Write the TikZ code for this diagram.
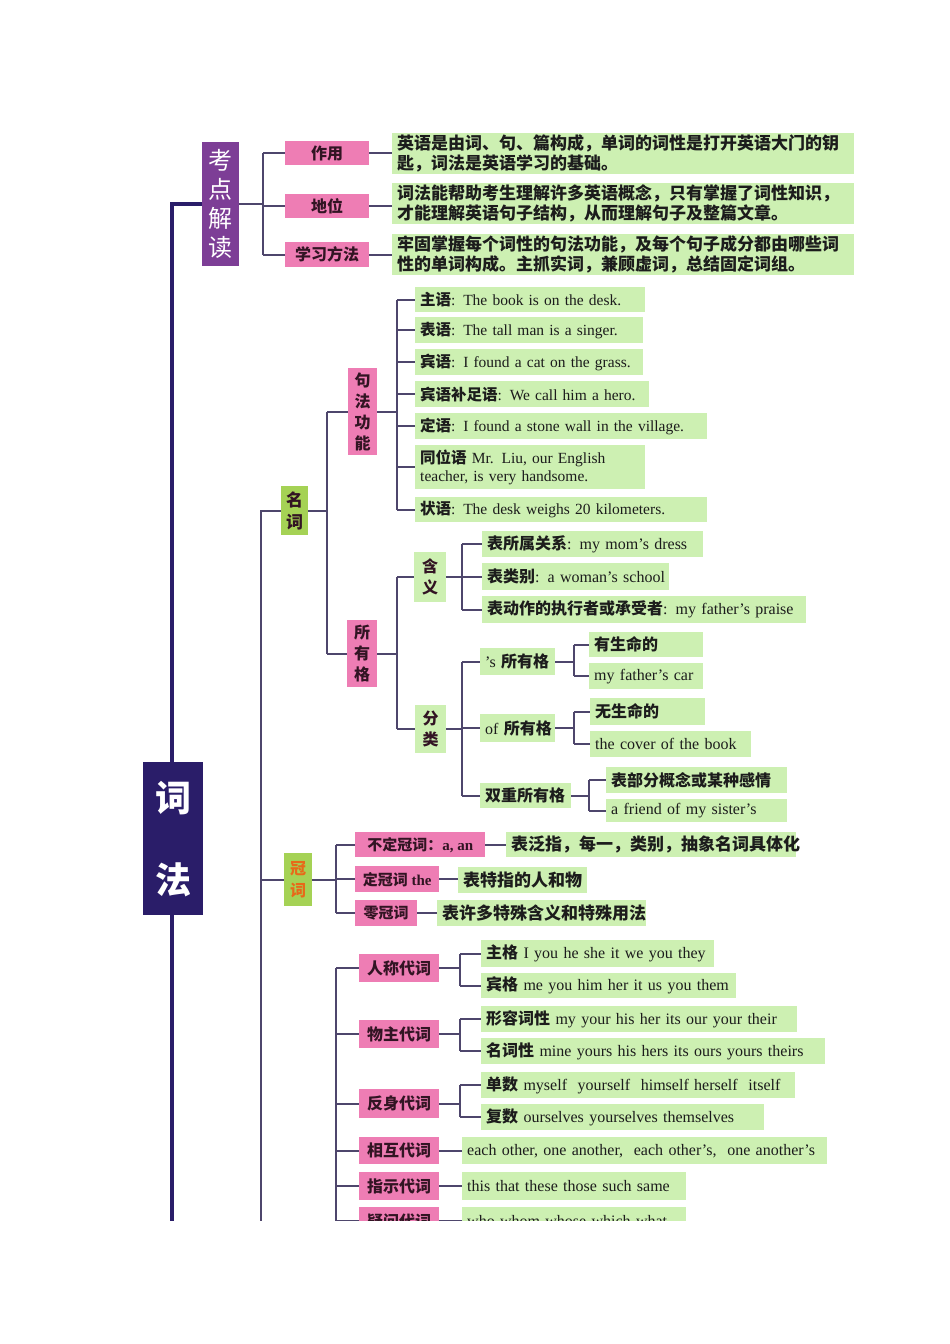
\documentclass[tikz,border=0pt]{standalone}
\usepackage{fontspec}
\setmainfont{Liberation Serif}
\newfontfamily\cjk{Noto Sans CJK SC}
\newcommand\zhx[1]{{\cjk\bfseries #1}}
\definecolor{pfill}{RGB}{238,125,180}
\definecolor{gfill}{RGB}{205,240,178}
\definecolor{mgreen}{RGB}{165,210,85}
\definecolor{lcol}{RGB}{78,70,108}
\definecolor{navy}{RGB}{42,29,105}
\definecolor{kdpurple}{RGB}{125,62,150}
\definecolor{ptext}{RGB}{50,20,35}
\definecolor{gtext}{RGB}{28,28,28}
\definecolor{orangetext}{RGB}{232,105,25}
\tikzset{
  gbox/.style={fill=gfill, inner xsep=5pt, inner ysep=0pt, anchor=north west, align=left, text=gtext, font=\fontsize{15.5}{18}\selectfont},
  pbox/.style={fill=pfill, inner sep=0pt, anchor=north west, align=center, text=ptext, font=\cjk\bfseries\fontsize{16}{20}\selectfont},
  vbox/.style={inner sep=0pt, anchor=north west, align=center, text=ptext, font=\cjk\bfseries\fontsize{16}{21}\selectfont},
  ln/.style={draw=lcol, line width=2pt},
  navyline/.style={draw=navy, line width=4.5pt},
}
% single-line green box (never wraps)
\newcommand\gn[6]{\node[gbox,text width=\the\dimexpr#4pt-10pt\relax,minimum height=#5pt] (#1) at (#2,#3) {\mbox{#6}};}
% multi-line green box (lines given with \\)
\newcommand\gm[6]{\node[gbox,text width=\the\dimexpr#4pt-10pt\relax,minimum height=#5pt] (#1) at (#2,#3) {#6};}
\newcommand\pn[6]{\node[pbox,minimum width=#4pt,minimum height=#5pt] (#1) at (#2,#3) {#6};}
\begin{document}
\begin{tikzpicture}[x=1pt,y=-1pt]
\useasboundingbox (0,0) rectangle (950,1344);
\fill[white] (0,0) rectangle (950,1344);
\begin{scope}
\clip (0,0) rectangle (950,1220);
% bus coordinates
\coordinate (B1) at (263,0);
\coordinate (B2) at (261,0);
\coordinate (B3) at (327,0);
\coordinate (B4) at (397,0);
\coordinate (B5) at (462,0);
\coordinate (B6) at (574,0);
\coordinate (B7) at (589,0);
\coordinate (B8) at (336,0);
\coordinate (B9) at (460,0);
\coordinate (bot) at (0,1232);
\coordinate (navx) at (172,0);

% ---------- top section ----------
\node[anchor=north west, fill=kdpurple, inner sep=0pt, minimum width=37pt, minimum height=124pt, align=center, text=white, font=\cjk\fontsize{24}{29}\selectfont] (kd) at (202,142) {考\\点\\解\\读};
\draw[navyline] (kd.west) -- (kd.west -| navx) -- (navx |- bot);
\node[anchor=north west, fill=navy, inner sep=0pt, minimum width=60pt, minimum height=153pt, align=center, text=white, font=\cjk\bfseries\fontsize{36}{82}\selectfont] (cf) at (143,762) {词\\法};

\pn{p1}{285}{141}{84}{24}{作用}
\pn{p2}{285}{194}{84}{24}{地位}
\pn{p3}{285}{242}{84}{25}{学习方法}
\begin{scope}[gbox/.append style={font=\cjk\bfseries\fontsize{17}{20}\selectfont}]
\gm{g1}{392}{133}{462}{41}{英语是由词、句、篇构成，单词的词性是打开英语大门的钥\\匙，词法是英语学习的基础。}
\gm{g2}{392}{183}{462}{41}{词法能帮助考生理解许多英语概念，只有掌握了词性知识，\\才能理解英语句子结构，从而理解句子及整篇文章。}
\gm{g3}{392}{234}{462}{41}{牢固掌握每个词性的句法功能，及每个句子成分都由哪些词\\性的单词构成。主抓实词，兼顾虚词，总结固定词组。}
\end{scope}
\draw[ln] (kd.east) -- (kd.east -| B1);
\draw[ln] (p1.west -| B1) -- (p3.west -| B1);
\foreach \n in {p1,p2,p3} \draw[ln] (\n.west -| B1) -- (\n.west);
\foreach \a/\b in {p1/g1,p2/g2,p3/g3} \draw[ln] (\a.east) -- (\a.east -| \b.west);

% ---------- noun ----------
\node[vbox, fill=mgreen, minimum width=27pt, minimum height=49pt, font=\cjk\bfseries\fontsize{17}{22}\selectfont] (mc) at (281,486) {名\\词};
\node[vbox, fill=pfill, minimum width=29pt, minimum height=87pt] (jf) at (348,368) {句\\法\\功\\能};
\node[vbox, fill=pfill, minimum width=30pt, minimum height=67pt] (sy) at (347,620) {所\\有\\格};
\draw[ln] (mc.west) -- (mc.west -| B2) -- (B2 |- bot);
\draw[ln] (mc.east) -- (mc.east -| B3);
\draw[ln] (jf.west -| B3) -- (sy.west -| B3);
\draw[ln] (jf.west -| B3) -- (jf.west);
\draw[ln] (sy.west -| B3) -- (sy.west);

\gn{s1}{415}{287}{230}{25}{\zhx{主语}: The book is on the desk.}
\gn{s2}{415}{317}{228}{26}{\zhx{表语}: The tall man is a singer.}
\gn{s3}{415}{349}{228}{26}{\zhx{宾语}: I found a cat on the grass.}
\gn{s4}{415}{381}{234}{26}{\zhx{宾语补足语}: We call him a hero.}
\gn{s5}{415}{413}{292}{26}{\zhx{定语}: I found a stone wall in the village.}
\gm{s6}{415}{445}{230}{44}{\zhx{同位语} Mr. Liu, our English\\teacher, is very handsome.}
\gn{s7}{415}{497}{292}{25}{\zhx{状语}: The desk weighs 20 kilometers.}
\draw[ln] (jf.east) -- (jf.east -| B4);
\draw[ln] (s1.west -| B4) -- (s7.west -| B4);
\foreach \n in {s1,s2,s3,s4,s5,s6,s7} \draw[ln] (\n.west -| B4) -- (\n.west);

\node[vbox, fill=gfill, minimum width=32pt, minimum height=50pt] (hy) at (414,552) {含\\义};
\node[vbox, fill=gfill, minimum width=31pt, minimum height=48pt] (fl) at (415,705) {分\\类};
\draw[ln] (sy.east) -- (sy.east -| B4);
\draw[ln] (hy.west -| B4) -- (fl.west -| B4);
\draw[ln] (hy.west -| B4) -- (hy.west);
\draw[ln] (fl.west -| B4) -- (fl.west);

\begin{scope}[gbox/.append style={font=\fontsize{16}{19}\selectfont}]
\gn{h1}{482}{531}{221}{26}{\zhx{表所属关系}: my mom’s dress}
\gn{h2}{482}{563}{187}{27}{\zhx{表类别}: a woman’s school}
\gn{h3}{482}{596}{324}{27}{\zhx{表动作的执行者或承受者}: my father’s praise}
\gn{f1}{480}{648}{75}{27}{’s \zhx{所有格}}
\gn{f2}{480}{714}{75}{28}{of \zhx{所有格}}
\gn{f3}{480}{783}{91}{25}{\zhx{双重所有格}}
\gn{a1}{589}{632}{114}{25}{\zhx{有生命的}}
\gn{a2}{589}{663}{114}{26}{my father’s car}
\gn{b1}{590}{698}{115}{27}{\zhx{无生命的}}
\gn{b2}{590}{731}{161}{26}{the cover of the book}
\gn{c1}{606}{767}{181}{26}{\zhx{表部分概念或某种感情}}
\gn{c2}{606}{799}{181}{23}{a friend of my sister’s}
\end{scope}
\draw[ln] (hy.east) -- (hy.east -| B5);
\draw[ln] (h1.west -| B5) -- (h3.west -| B5);
\foreach \n in {h1,h2,h3} \draw[ln] (\n.west -| B5) -- (\n.west);
\draw[ln] (fl.east) -- (fl.east -| B5);
\draw[ln] (f1.west -| B5) -- (f3.west -| B5);
\foreach \n in {f1,f2,f3} \draw[ln] (\n.west -| B5) -- (\n.west);
\draw[ln] (f1.east) -- (f1.east -| B6);
\draw[ln] (a1.west -| B6) -- (a2.west -| B6);
\foreach \n in {a1,a2} \draw[ln] (\n.west -| B6) -- (\n.west);
\draw[ln] (f2.east) -- (f2.east -| B6);
\draw[ln] (b1.west -| B6) -- (b2.west -| B6);
\foreach \n in {b1,b2} \draw[ln] (\n.west -| B6) -- (\n.west);
\draw[ln] (f3.east) -- (f3.east -| B7);
\draw[ln] (c1.west -| B7) -- (c2.west -| B7);
\foreach \n in {c1,c2} \draw[ln] (\n.west -| B7) -- (\n.west);

% ---------- article ----------
\node[vbox, fill=mgreen, minimum width=28pt, minimum height=53pt, text=orangetext, font=\cjk\bfseries\fontsize{16}{22}\selectfont] (gc) at (284,853) {冠\\词};
\draw[ln] (gc.west -| B2) -- (gc.west);
\begin{scope}[pbox/.append style={font=\fontsize{15}{18}\selectfont}]
\pn{q1}{355}{832}{130}{25}{\zhx{不定冠词：}\textbf{a, an}}
\pn{q2}{355}{866}{84}{26}{\zhx{定冠词} \textbf{the}}
\pn{q3}{355}{900}{62}{26}{\zhx{零冠词}}
\end{scope}
\begin{scope}[gbox/.append style={font=\cjk\bfseries\fontsize{17}{20}\selectfont}]
\gn{q1g}{506}{832}{290}{25}{表泛指，每一，类别，抽象名词具体化}
\gn{q2g}{458}{867}{129}{26}{表特指的人和物}
\gn{q3g}{437}{900}{209}{26}{表许多特殊含义和特殊用法}
\end{scope}
\draw[ln] (gc.east) -- (gc.east -| B8);
\draw[ln] (q1.west -| B8) -- (q3.west -| B8);
\foreach \n in {q1,q2,q3} \draw[ln] (\n.west -| B8) -- (\n.west);
\foreach \a/\b in {q1/q1g,q2/q2g,q3/q3g} \draw[ln] (\a.east) -- (\a.east -| \b.west);

% ---------- pronoun ----------
\pn{r1}{359}{954}{80}{28}{人称代词}
\pn{r2}{359}{1020}{80}{28}{物主代词}
\pn{r3}{359}{1089}{80}{29}{反身代词}
\pn{r4}{359}{1137}{80}{27}{相互代词}
\pn{r5}{359}{1172}{80}{28}{指示代词}
\pn{r6}{359}{1207}{80}{28}{疑问代词}
\draw[ln] (r1.west -| B8) -- (B8 |- bot);
\foreach \n in {r1,r2,r3,r4,r5,r6} \draw[ln] (\n.west -| B8) -- (\n.west);
\begin{scope}[gbox/.append style={font=\fontsize{16}{19}\selectfont}]
\gn{r1a}{481}{940}{233}{27}{\zhx{主格} I you he she it we you they}
\gn{r1b}{481}{973}{255}{25}{\zhx{宾格} me you him her it us you them}
\gn{r2a}{481}{1006}{316}{26}{\zhx{形容词性} my your his her its our your their}
\gn{r2b}{481}{1038}{344}{26}{\zhx{名词性} mine yours his hers its ours yours theirs}
\gn{r3a}{481}{1072}{314}{26}{\zhx{单数} myself\ \ yourself\ \ himself herself\ \ itself}
\gn{r3b}{481}{1104}{283}{26}{\zhx{复数} ourselves yourselves themselves}
\gn{r4g}{462}{1137}{365}{27}{each other, one another,\ \ each other’s,\ \ one another’s}
\gn{r5g}{462}{1172}{224}{28}{this that these those such same}
\gn{r6g}{462}{1207}{224}{28}{who whom whose which what}
\end{scope}
\foreach \p/\a/\b in {r1/r1a/r1b,r2/r2a/r2b,r3/r3a/r3b} {
  \draw[ln] (\p.east) -- (\p.east -| B9);
  \draw[ln] (\a.west -| B9) -- (\b.west -| B9);
  \draw[ln] (\a.west -| B9) -- (\a.west);
  \draw[ln] (\b.west -| B9) -- (\b.west);
}
\foreach \a/\b in {r4/r4g,r5/r5g,r6/r6g} \draw[ln] (\a.east) -- (\a.east -| \b.west);
\end{scope}
\end{tikzpicture}
\end{document}
